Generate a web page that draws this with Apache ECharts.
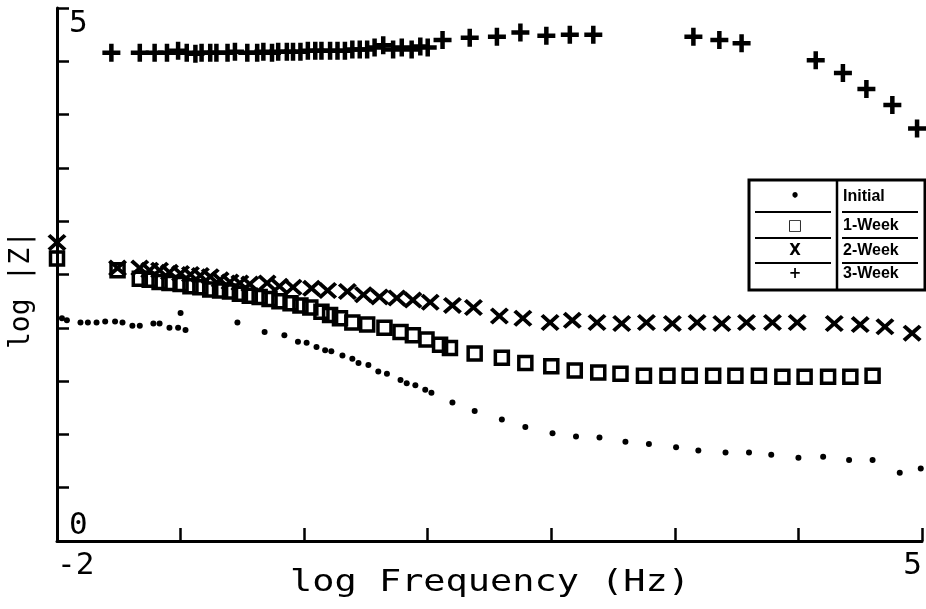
<!DOCTYPE html>
<html>
<head>
<meta charset="utf-8">
<script src="https://cdn.jsdelivr.net/npm/echarts@6/dist/echarts.min.js"></script>
<style>
html,body{margin:0;padding:0;background:#fff;}
#chart{width:926px;height:609px;}
</style>
</head>
<body>
<div id="chart"></div>
<script>
// ---- data (log Frequency in Hz, log |Z|) ----
const seriesNames = ['Initial', '1-Week', '2-Week', '3-Week'];
const legendSymbols = ['\u2022', '\u25A1', 'X', '+'];

const xInitial = [-1.96,-1.92,-1.81,-1.75,-1.68,-1.61,-1.53,-1.47,-1.39,-1.33,-1.22,-1.17,-1.09,-1.02,-1.00,-0.96,-0.54,-0.32,-0.16,-0.05,0.02,0.10,0.17,0.22,0.31,0.39,0.44,0.52,0.60,0.67,0.78,0.83,0.90,0.98,1.03,1.20,1.38,1.60,1.79,2.01,2.20,2.39,2.60,2.79,3.01,3.19,3.41,3.60,3.78,4.00,4.20,4.41,4.60,4.82,4.99];
const yInitial = [2.09,2.07,2.05,2.05,2.05,2.06,2.06,2.05,2.02,2.02,2.04,2.04,2.00,2.00,2.14,1.98,2.05,1.96,1.93,1.87,1.86,1.82,1.79,1.78,1.74,1.71,1.67,1.65,1.59,1.57,1.51,1.48,1.46,1.42,1.39,1.30,1.22,1.14,1.07,1.01,0.98,0.97,0.93,0.91,0.88,0.85,0.83,0.83,0.81,0.78,0.79,0.76,0.76,0.64,0.68];

const xWeek1 = [-2.00,-1.51,-1.33,-1.25,-1.17,-1.09,-1.00,-0.92,-0.84,-0.76,-0.68,-0.60,-0.52,-0.44,-0.36,-0.28,-0.20,-0.11,-0.03,0.05,0.14,0.21,0.29,0.39,0.51,0.65,0.78,0.88,0.99,1.10,1.18,1.38,1.60,1.79,2.00,2.19,2.38,2.56,2.75,2.94,3.12,3.31,3.49,3.68,3.87,4.05,4.24,4.42,4.60];
const yWeek1 = [2.65,2.54,2.46,2.45,2.43,2.42,2.41,2.39,2.38,2.36,2.35,2.34,2.32,2.30,2.29,2.27,2.25,2.23,2.21,2.19,2.15,2.12,2.09,2.05,2.03,2.00,1.96,1.93,1.89,1.84,1.81,1.76,1.72,1.67,1.64,1.60,1.58,1.57,1.55,1.55,1.55,1.55,1.55,1.55,1.54,1.54,1.54,1.54,1.55];

const xWeek2 = [-2.00,-1.51,-1.33,-1.25,-1.17,-1.09,-1.00,-0.92,-0.84,-0.76,-0.68,-0.60,-0.52,-0.44,-0.30,-0.20,-0.09,0.06,0.19,0.35,0.48,0.61,0.75,0.88,1.02,1.20,1.37,1.58,1.77,1.99,2.17,2.37,2.57,2.77,2.98,3.18,3.38,3.58,3.79,3.99,4.29,4.50,4.70,4.92];
const yWeek2 = [2.80,2.56,2.56,2.54,2.54,2.52,2.51,2.50,2.49,2.48,2.45,2.43,2.42,2.41,2.42,2.39,2.38,2.37,2.35,2.34,2.31,2.29,2.28,2.26,2.24,2.21,2.19,2.11,2.09,2.05,2.07,2.05,2.04,2.05,2.04,2.05,2.04,2.05,2.05,2.05,2.04,2.03,2.01,1.95];

const xWeek3 = [-1.56,-1.33,-1.21,-1.11,-1.02,-0.95,-0.88,-0.83,-0.76,-0.71,-0.62,-0.56,-0.46,-0.38,-0.33,-0.26,-0.21,-0.14,-0.09,-0.03,0.03,0.09,0.14,0.21,0.27,0.33,0.39,0.45,0.51,0.57,0.64,0.72,0.79,0.87,0.94,1.00,1.12,1.34,1.56,1.75,1.96,2.15,2.34,3.15,3.36,3.54,4.14,4.36,4.55,4.76,4.96];
const yWeek3 = [4.58,4.58,4.58,4.58,4.60,4.58,4.57,4.58,4.58,4.58,4.58,4.59,4.58,4.58,4.59,4.58,4.59,4.59,4.59,4.59,4.60,4.60,4.60,4.60,4.60,4.60,4.61,4.61,4.61,4.63,4.65,4.61,4.63,4.61,4.64,4.63,4.70,4.72,4.73,4.77,4.74,4.75,4.75,4.73,4.70,4.67,4.51,4.39,4.24,4.09,3.87];

const xTickLabels = ['-2','','','','','','','5'];
const yTickLabels = ['0','','','','','','','','','','5'];
const xTitle = 'log Frequency (Hz)';
const yTitle = 'log |Z|';

const xMin = -2, xMax = 5, yMin = 0, yMax = 5;

function pairs(xs, ys){ return xs.map((v,i)=>[v, ys[i]]); }

const plusPath = 'path://M6,0H10V6H16V10H10V16H6V10H0V6H6Z';
const crossPath = 'path://M0,3L3,0L10,7L17,0L20,3L13,10L20,17L17,20L10,13L3,20L0,17L7,10Z';
const mono = '"DejaVu Sans Mono", monospace';
const legFont = '"Liberation Sans Narrow", "Liberation Sans", Arial, sans-serif';

const chart = echarts.init(document.getElementById('chart'), null, {renderer:'canvas'});

const legX = 749, legY = 180, legW = 176, legH = 110, legDiv = 837;
const rowY = [197, 226, 251, 274];
const legendElems = [
  {type:'rect', shape:{x:legX, y:legY, width:legW, height:legH}, style:{fill:'#fff', stroke:'#000', lineWidth:3}, z:100},
  {type:'line', shape:{x1:legDiv, y1:legY, x2:legDiv, y2:legY+legH}, style:{stroke:'#000', lineWidth:2.5}, z:101},
  {type:'line', shape:{x1:755, y1:212, x2:831, y2:212}, style:{stroke:'#000', lineWidth:2}, z:101},
  {type:'line', shape:{x1:842, y1:212, x2:918, y2:212}, style:{stroke:'#000', lineWidth:2}, z:101},
  {type:'line', shape:{x1:755, y1:238, x2:831, y2:238}, style:{stroke:'#000', lineWidth:2}, z:101},
  {type:'line', shape:{x1:842, y1:238, x2:918, y2:238}, style:{stroke:'#000', lineWidth:2}, z:101},
  {type:'line', shape:{x1:755, y1:263, x2:831, y2:263}, style:{stroke:'#000', lineWidth:2}, z:101},
  {type:'line', shape:{x1:842, y1:263, x2:918, y2:263}, style:{stroke:'#000', lineWidth:2}, z:101}
];
seriesNames.forEach((n,i)=>{
  legendElems.push({type:'text', x:843, y:rowY[i], style:{text:n, font:'bold 16px '+legFont, fill:'#000', textAlign:'left', textVerticalAlign:'middle'}, z:102});
  legendElems.push({type:'text', x:795, y:rowY[i], style:{text:legendSymbols[i], font:'bold 15px "DejaVu Sans", sans-serif', fill:'#000', textAlign:'center', textVerticalAlign:'middle'}, z:102});
});

const option = {
  backgroundColor:'#fff',
  animation:false,
  grid:{left:57, right:4, top:8, bottom:68, containLabel:false},
  xAxis:{
    type:'value', min:xMin, max:xMax, interval:1,
    axisLine:{show:true, onZero:false, lineStyle:{color:'#000', width:3}},
    axisTick:{show:true, inside:true, length:13, lineStyle:{color:'#000', width:2.5}},
    splitLine:{show:false},
    axisLabel:{
      show:true, showMinLabel:true, showMaxLabel:true, margin:9,
      formatter:(v)=>xTickLabels[Math.round(v - xMin)] || '',
      fontFamily:mono, fontSize:31, color:'#000',
      alignMinLabel:'left', alignMaxLabel:'right'
    }
  },
  yAxis:{
    type:'value', min:yMin, max:yMax, interval:0.5,
    axisLine:{show:true, onZero:false, lineStyle:{color:'#000', width:3}},
    axisTick:{show:true, inside:true, length:12, lineStyle:{color:'#000', width:2.5}},
    splitLine:{show:false},
    axisLabel:{
      show:true, inside:true, showMinLabel:true, showMaxLabel:true, margin:12,
      formatter:(v)=>yTickLabels[Math.round((v - yMin)/0.5)] || '',
      fontFamily:mono, fontSize:31, color:'#000',
      verticalAlignMinLabel:'bottom', verticalAlignMaxLabel:'top'
    }
  },
  series:[
    {name:seriesNames[0], type:'scatter', data:pairs(xInitial,yInitial), symbol:'circle', symbolSize:6,
     itemStyle:{color:'#000', opacity:1}},
    {name:seriesNames[1], type:'scatter', data:pairs(xWeek1,yWeek1), symbol:'rect', symbolSize:13,
     itemStyle:{color:'rgba(0,0,0,0)', borderColor:'#000', borderWidth:3.5, opacity:1}},
    {name:seriesNames[2], type:'scatter', data:pairs(xWeek2,yWeek2), symbol:crossPath, symbolSize:[19,17],
     itemStyle:{color:'#000', opacity:1}},
    {name:seriesNames[3], type:'scatter', data:pairs(xWeek3,yWeek3), symbol:plusPath, symbolSize:[18,18],
     itemStyle:{color:'#000', opacity:1}}
  ],
  graphic:[
    {type:'text', x:490, y:583, scaleX:1.23, style:{text:xTitle, font:'30px '+mono, fill:'#000', textAlign:'center', textVerticalAlign:'middle'}},
    {type:'text', x:22, y:290, rotation:Math.PI/2, style:{text:yTitle, font:'28px '+mono, fill:'#000', textAlign:'center', textVerticalAlign:'middle'}},
    {type:'group', children:legendElems}
  ]
};
chart.setOption(option);
</script>
</body>
</html>
